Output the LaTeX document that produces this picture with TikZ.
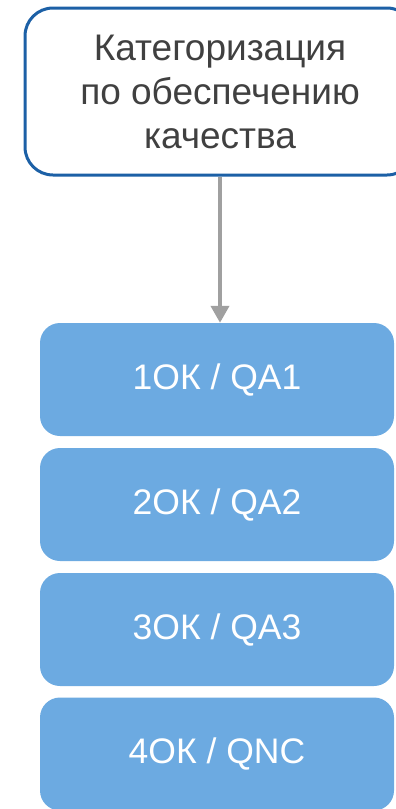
\documentclass[tikz,border=0pt]{standalone}
\usepackage{fontspec}
\setmainfont{Liberation Sans}
\usetikzlibrary{arrows.meta}
\definecolor{qblue}{RGB}{108,170,225}
\definecolor{qborder}{RGB}{28,96,166}
\definecolor{qgray}{RGB}{160,160,160}
\definecolor{qtext}{RGB}{64,64,64}
\begin{document}
\begin{tikzpicture}[x=1pt,y=-1pt,
  headbox/.style={draw=qborder,line width=3pt,fill=white,rounded corners=28pt,
    minimum width=390pt,minimum height=167pt,inner sep=0pt,
    align=center,text=qtext,font=\fontsize{37}{44}\selectfont},
  qbox/.style={fill=qblue,rounded corners=20pt,minimum width=354pt,
    minimum height=113pt,inner sep=0pt,text=white,font=\fontsize{35.5}{40}\selectfont},
  conn/.style={draw=qgray,line width=4pt,-{Triangle[length=17pt,width=18pt]}}]
\useasboundingbox (0,0) rectangle (396,809);
\clip (0,0) rectangle (396,809);
\node[headbox] (head) at (220,91.5) {Категоризация\\по обеспечению\\качества};
\node[qbox] (q1) at (217,379.5) {1ОК / QA1};
\node[qbox] (q2) at (217,504.5) {2ОК / QA2};
\node[qbox] (q3) at (217,629.5) {3ОК / QA3};
\node[qbox] (q4) at (217,754) {4ОК / QNC};
\draw[conn] (head.south) -- (head.south |- q1.north);
\end{tikzpicture}
\end{document}
